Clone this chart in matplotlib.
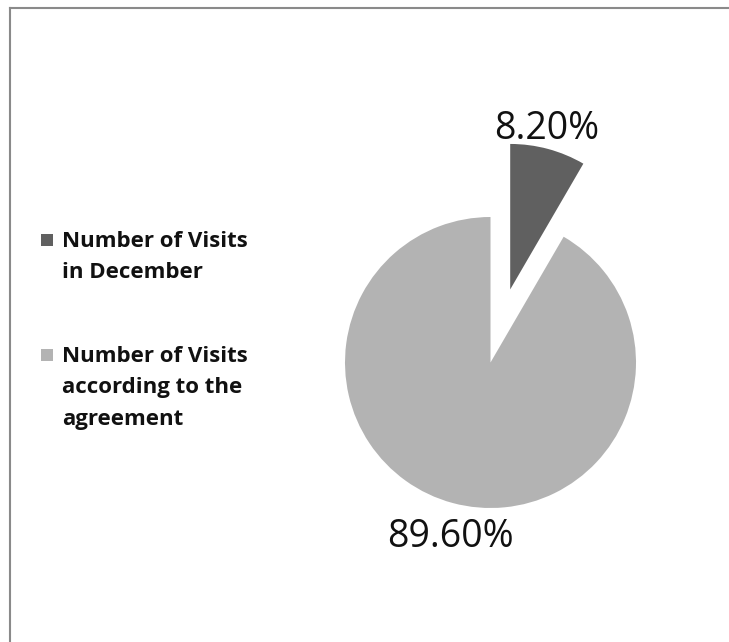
import numpy as np
import matplotlib.pyplot as plt
from matplotlib.lines import Line2D
from matplotlib.patches import Rectangle

labels = ["Number of Visits\nin December", "Number of Visits\naccording to the\nagreement"]
values = [8.20, 89.60]
pct_text = ["8.20%", "89.60%"]
colors = ["#606060", "#b3b3b3"]
explode = [0.52, 0.0]
label_dist = [1.14, 1.24]

W, H = 729, 642
fig = plt.figure(figsize=(W / 100, H / 100), dpi=100)
fig.patch.set_facecolor("white")

# pie geometry in pixels: centre and radius of the main disc
cx, cy, r = 490.5, 362.5, 145.5
L = 2.4
side = 2 * L * r
ax = fig.add_axes([(cx - side / 2) / W, (H - cy - side / 2) / H, side / W, side / H])

wedges, texts = ax.pie(values, colors=colors, startangle=90, counterclock=False,
                       explode=explode, labels=pct_text, labeldistance=1.2,
                       textprops=dict(fontsize=27, family="Open Sans", color="#111111"))
ax.set_xlim(-L, L)
ax.set_ylim(-L, L)
ax.set_aspect("equal")
ax.axis("off")

# put each percentage on its wedge's bisector, centred
for w, t, d in zip(wedges, texts, label_dist):
    mid = np.deg2rad((w.theta1 + w.theta2) / 2)
    x0, y0 = w.center
    t.set_position((x0 + d * np.cos(mid) * 0.85, y0 + d * np.sin(mid)))
    t.set_ha("center")
    t.set_va("center")

# legend on the left, square marker beside the first line of each entry
legend_y = [240, 355]
for lab, col, y in zip(labels, colors, legend_y):
    fig.patches.append(Rectangle((41 / W, 1 - (y + 6) / H), 12 / W, 12 / H,
                                 transform=fig.transFigure, facecolor=col,
                                 edgecolor="none"))
    fig.text(62 / W, 1 - (y - 9) / H, lab, ha="left", va="top", fontsize=16,
             fontweight="bold", family="Open Sans", color="#111111",
             linespacing=1.65)

# frame lines along the top and left edges
fig.lines.append(Line2D([10 / W, 1], [1 - 8 / H, 1 - 8 / H], transform=fig.transFigure,
                        color="#8a8a8a", lw=1.5))
fig.lines.append(Line2D([10 / W, 10 / W], [0, 1 - 8 / H], transform=fig.transFigure,
                        color="#8a8a8a", lw=1.5))

fig.savefig("out.png", dpi=100)
